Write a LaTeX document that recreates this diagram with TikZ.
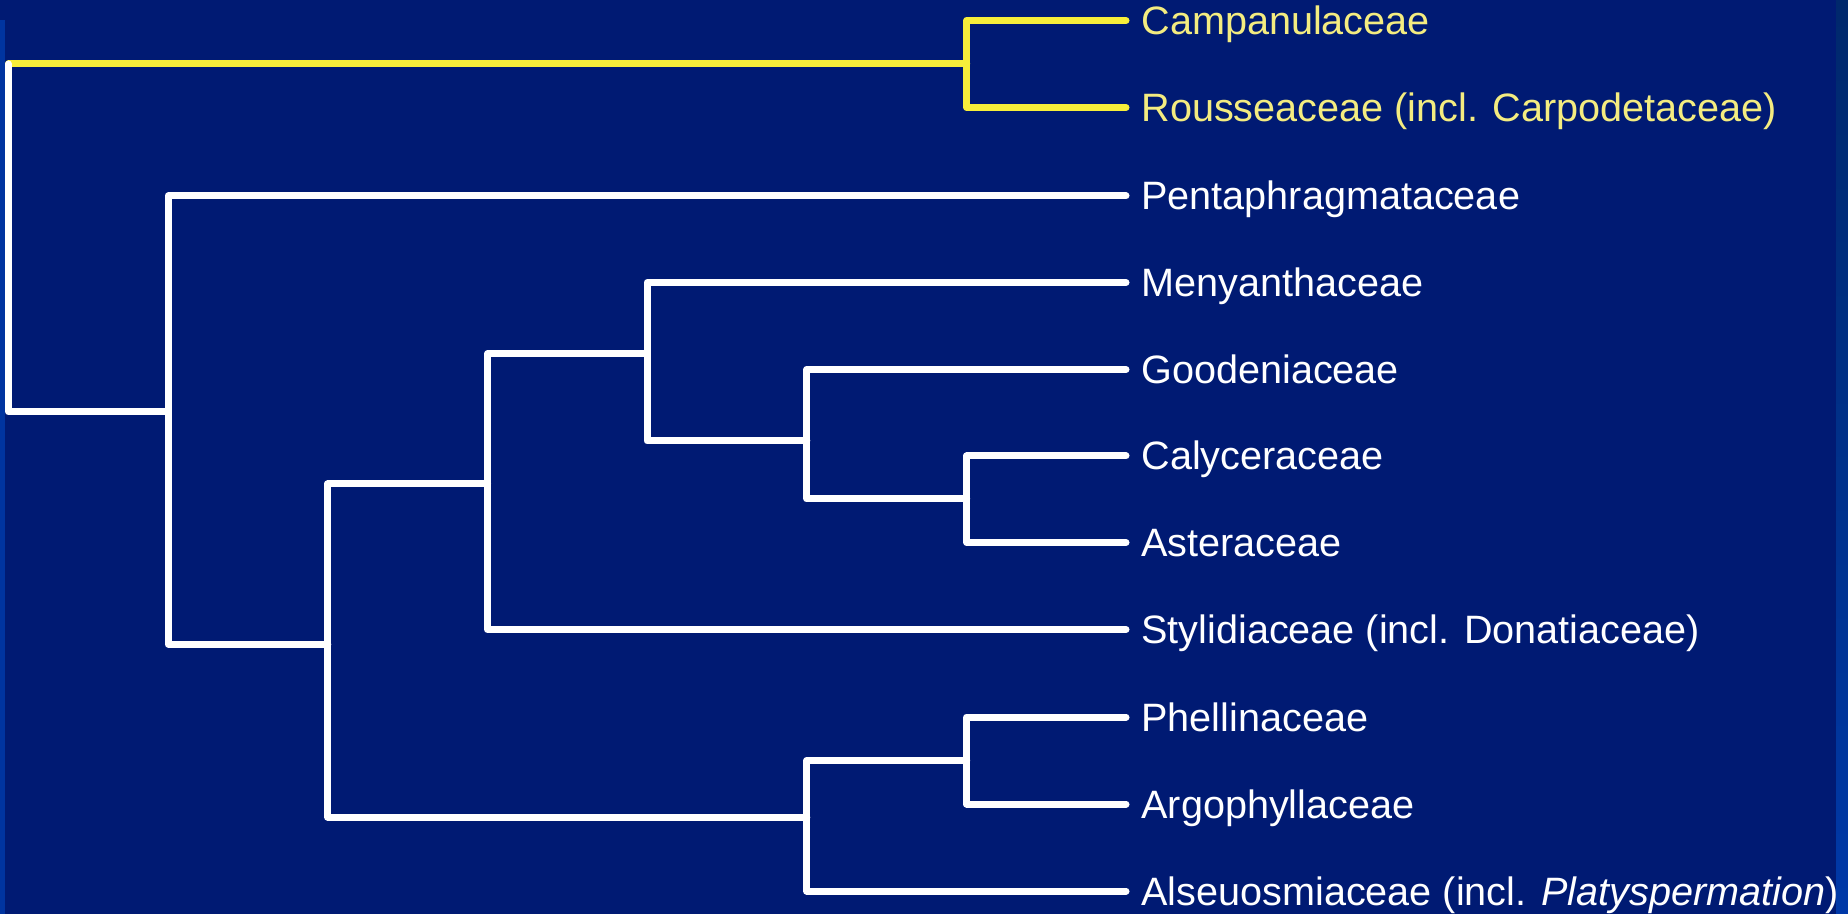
\documentclass[tikz,border=0pt]{standalone}
\usepackage{fontspec}
\setmainfont{Liberation Sans}
\definecolor{bg}{HTML}{001A73}
\definecolor{stripeL}{HTML}{0034A0}
\definecolor{stripeTop}{HTML}{00286C}
\definecolor{stripeBot}{HTML}{0039A8}
\definecolor{ylw}{HTML}{F7EE3A}
\definecolor{ytxt}{HTML}{F4EC80}
\begin{document}
\begin{tikzpicture}[x=0.5pt,y=-0.5pt,
  branch/.style={draw=white,line width=3.5pt,line join=round,line cap=round},
  ybranch/.style={branch,draw=ylw},
  lbl/.style={anchor=base west,inner sep=0pt,text=white,font=\fontsize{19.8}{24}\selectfont},
  ylbl/.style={lbl,text=ytxt}]
% background
\fill[bg] (0,0) rectangle (1848,914);
\useasboundingbox (0,0) rectangle (1848,914);
\fill[stripeL] (0,20) rectangle (5,914);
\shade[top color=stripeTop,bottom color=stripeBot] (1836,0) rectangle (1848,914);

% leaf line ends
\coordinate (lCamp) at (1126,20.5);
\coordinate (lRous) at (1126,107.5);
\coordinate (lPent) at (1126,196);
\coordinate (lMeny) at (1126,282.5);
\coordinate (lGood) at (1126,369.5);
\coordinate (lCaly) at (1126,456);
\coordinate (lAste) at (1126,542.5);
\coordinate (lStyl) at (1126,629.5);
\coordinate (lPhel) at (1126,717);
\coordinate (lArgo) at (1126,804);
\coordinate (lAlse) at (1126,891);

% internal nodes
\coordinate (root) at (8.5,238);
\coordinate (nY) at (966.7,64);
\coordinate (nB) at (168.3,412);
\coordinate (nC) at (327.8,644);
\coordinate (nD) at (487.5,484);
\coordinate (nE) at (647,354);
\coordinate (nF) at (806.8,441);
\coordinate (nG) at (966.7,499);
\coordinate (nH) at (806.8,817);
\coordinate (nI) at (966.7,760.5);

% labels
\node[ylbl] (tCamp) at (1141,34.5) {Campanulaceae};
\node[ylbl] (tRous) at (1141,121.5) {Rousseaceae (incl. Carpodetaceae)};
\node[lbl] (tPent) at (1141,210) {Pentaphragmataceae};
\node[lbl] (tMeny) at (1141,296.5) {Menyanthaceae};
\node[lbl] (tGood) at (1141,383.5) {Goodeniaceae};
\node[lbl] (tCaly) at (1141,470) {Calyceraceae};
\node[lbl] (tAste) at (1141,556.5) {Asteraceae};
\node[lbl] (tStyl) at (1141,643.5) {Stylidiaceae (incl. Donatiaceae)};
\node[lbl] (tPhel) at (1141,731) {Phellinaceae};
\node[lbl] (tArgo) at (1141,818) {Argophyllaceae};
\node[lbl] (tAlse) at (1141,905) {Alseuosmiaceae (incl. \textit{Platyspermation})};

% yellow clade
\draw[ybranch] (root |- nY) -- (nY);
\draw[ybranch] (nY) |- (lCamp);
\draw[ybranch] (nY) |- (lRous);

% white tree
\draw[branch] (root |- nY) -- (root |- nB) -- (nB);
\draw[branch] (nB) |- (lPent);
\draw[branch] (nB) |- (nC);
\draw[branch] (nC) |- (nD);
\draw[branch] (nC) |- (nH);
\draw[branch] (nD) |- (nE);
\draw[branch] (nD) |- (lStyl);
\draw[branch] (nE) |- (lMeny);
\draw[branch] (nE) |- (nF);
\draw[branch] (nF) |- (lGood);
\draw[branch] (nF) |- (nG);
\draw[branch] (nG) |- (lCaly);
\draw[branch] (nG) |- (lAste);
\draw[branch] (nH) |- (nI);
\draw[branch] (nH) |- (lAlse);
\draw[branch] (nI) |- (lPhel);
\draw[branch] (nI) |- (lArgo);
\end{tikzpicture}
\end{document}
